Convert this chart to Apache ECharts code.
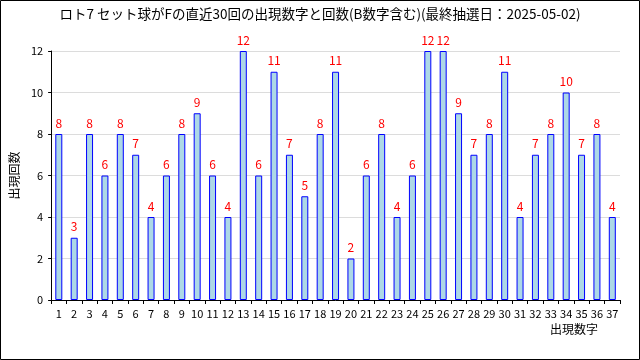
<!DOCTYPE html>
<html><head><meta charset="utf-8">
<script src="https://cdn.jsdelivr.net/npm/echarts@6/dist/echarts.min.js"></script>
<style>html,body{margin:0;padding:0;background:#fff}#c{width:640px;height:360px}</style>
</head><body><div id="c"></div>
<script>
const titleText = 'ロト7 セット球がFの直近30回の出現数字と回数(B数字含む)(最終抽選日：2025-05-02)';
const categories = ['1','2','3','4','5','6','7','8','9','10','11','12','13','14','15','16','17','18','19','20','21','22','23','24','25','26','27','28','29','30','31','32','33','34','35','36','37'];
const counts = [8,3,8,6,8,7,4,6,8,9,6,4,12,6,11,7,5,8,11,2,6,8,4,6,12,12,9,7,8,11,4,7,8,10,7,8,4];
const yTicks = [0,2,4,6,8,10,12];
const xName = '出現数字';
const yName = '出現回数';

const chart = echarts.init(document.getElementById('c'));
const font = '"Noto Sans CJK JP", "DejaVu Sans", sans-serif';
chart.setOption({
  animation: false,
  textStyle: {fontFamily: font},
  title: {text: titleText, left: 'center', top: 2,
    textStyle: {fontSize: 13.5, fontWeight: 'normal', color: '#000', fontFamily: font}},
  graphic: [{type: 'rect', shape: {x: 0.5, y: 0.5, width: 639, height: 359},
    style: {fill: null, stroke: '#000', lineWidth: 1}, silent: true}],
  grid: {left: 41, right: 20, top: 51, bottom: 60, containLabel: false},
  xAxis: {
    type: 'category', data: categories, boundaryGap: true,
    name: xName, nameLocation: 'end',
    nameTextStyle: {fontSize: 12, color: '#000', align: 'right', verticalAlign: 'top', padding: [23, 0, 0, 0]},
    nameGap: -22,
    axisLine: {lineStyle: {color: '#000', width: 1}},
    axisTick: {show: true, length: 4, lineStyle: {color: '#000'}},
    axisLabel: {color: '#000', fontSize: 11, interval: 0, margin: 8}
  },
  yAxis: {
    type: 'value', min: 0, max: 12, interval: 2,
    name: yName, nameLocation: 'middle', nameRotate: 90, nameGap: 27,
    nameTextStyle: {fontSize: 12, color: '#000'},
    axisLine: {show: true, lineStyle: {color: '#000'}},
    axisTick: {show: true, length: 3, lineStyle: {color: '#000'}},
    axisLabel: {color: '#000', fontSize: 11, margin: 8,
      formatter: v => yTicks.includes(v) ? String(v) : ''},
    splitLine: {lineStyle: {color: '#dcdcdc'}}
  },
  series: [{
    type: 'bar', data: counts, barWidth: 7,
    itemStyle: {color: '#add8e6', borderColor: '#0000ff', borderWidth: 1},
    label: {show: true, position: 'top', color: '#ff0000', fontSize: 12, distance: 5}
  }]
});
</script></body></html>
